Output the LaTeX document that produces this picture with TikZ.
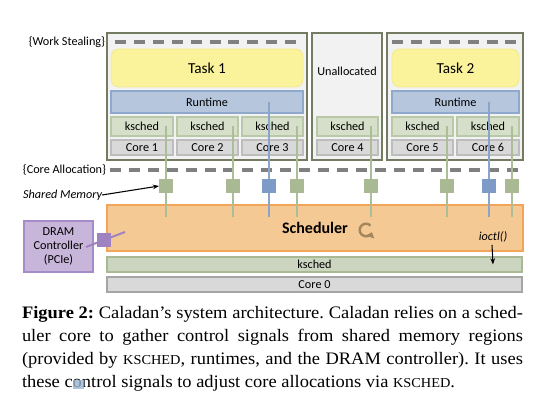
\documentclass[tikz,border=0pt]{standalone}
\usepackage{fontspec}
\usepackage{graphicx}
\setmainfont{Carlito}
\newfontfamily\capfont{Liberation Serif}
\usetikzlibrary{fit,arrows.meta}
\definecolor{outerB}{HTML}{737B62}
\definecolor{outerF}{HTML}{F2F2F2}
\definecolor{taskF}{HTML}{FAF39C}
\definecolor{taskB}{HTML}{F4EA8E}
\definecolor{rtF}{HTML}{B5C6DD}
\definecolor{rtB}{HTML}{8FA9CD}
\definecolor{ksF}{HTML}{D5DFC9}
\definecolor{ksB}{HTML}{B9C9A7}
\definecolor{coreF}{HTML}{D9D9D9}
\definecolor{coreB}{HTML}{BDBDBD}
\definecolor{dashC}{HTML}{808080}
\definecolor{sqG}{HTML}{A8B993}
\definecolor{lineG}{HTML}{ADBD98}
\definecolor{sqB}{HTML}{7E9BC7}
\definecolor{lineB}{HTML}{8AA5CB}
\definecolor{schF}{HTML}{F5C994}
\definecolor{schB}{HTML}{F2A559}
\definecolor{kbarF}{HTML}{CCD5C0}
\definecolor{kbarB}{HTML}{A9B994}
\definecolor{czF}{HTML}{D9D9D9}
\definecolor{czB}{HTML}{A5A5A5}
\definecolor{dramF}{HTML}{C8B6DA}
\definecolor{dramB}{HTML}{A58BC7}
\definecolor{dramS}{HTML}{9F83C1}
\definecolor{iconC}{HTML}{A4865C}
\definecolor{strayC}{HTML}{9AB5D3}
\newcommand\smallcapsword[1]{{\fontsize{9.4}{12}\selectfont #1}}
\newcommand\capline[1]{\makebox[328.5pt][s]{#1}}
\begin{document}
\begin{tikzpicture}[x=0.6557pt,y=-0.6557pt,
  every node/.style={inner sep=0,outer sep=0},
  outerbox/.style={draw=outerB,fill=outerF,line width=0.9pt},
  taskbox/.style={draw=taskB,fill=taskF,line width=0.6pt,rounded corners=5pt},
  rtbox/.style={draw=rtB,fill=rtF,line width=0.8pt},
  ksbox/.style={draw=ksB,fill=ksF,line width=0.8pt},
  corebox/.style={draw=coreB,fill=coreF,line width=0.8pt},
  txt/.style={font=\fontsize{8}{9.6}\selectfont},
  bigtxt/.style={font=\fontsize{10}{12}\selectfont},
  sepdash/.style={draw=dashC,line width=2pt,dash pattern=on 7.2pt off 5.2pt},
  lbl/.style={font=\fontsize{8}{9.6}\selectfont,anchor=east},
  sqgreen/.style={fill=sqG,minimum size=9.2pt},
  sqblue/.style={fill=sqB,minimum size=9.2pt},
  congreen/.style={draw=lineG,line width=1.3pt},
  conblue/.style={draw=lineB,line width=1.3pt},
  pointer/.style={draw=black,line width=0.7pt,-{Stealth[length=4pt,width=3pt]}}
]
\useasboundingbox (0,0) rectangle (545,401);

% outer boxes
\node[outerbox,fit={(107,33) (307,160)}] (b1) {};
\node[outerbox,fit={(312,33) (382,160)}] (bu) {};
\node[outerbox,fit={(387,33) (523,160)}] (b2) {};

% work stealing dashes
\draw[sepdash] (115,42) -- (298,42);
\draw[sepdash] (392,42) -- (520,42);
\node[lbl] (ws) at (105,42) {\{Work Stealing\}};

% tasks and runtimes
\node[taskbox,fit={(111,49) (303,87)}] (t1) {};
\node[taskbox,fit={(392,49) (519,87)}] (t2) {};
\node[rtbox,fit={(111,91) (303,113)}] (r1) {};
\node[rtbox,fit={(392,91) (519,113)}] (r2) {};
\node[bigtxt] (t1l) at (t1.center) {Task 1};
\node[bigtxt] (t2l) at (t2.center) {Task 2};
\node[txt] (r1l) at (r1.center) {Runtime};
\node[txt] (r2l) at (r2.center) {Runtime};
\node[txt] (ua) at (347,71) {Unallocated};

% ksched and cores
\node[ksbox,fit={(111,117) (173,136)}] (k1) {};
\node[ksbox,fit={(177,117) (238,136)}] (k2) {};
\node[ksbox,fit={(242,117) (303,136)}] (k3) {};
\node[ksbox,fit={(317,117) (378,136)}] (k4) {};
\node[ksbox,fit={(392,117) (453,136)}] (k5) {};
\node[ksbox,fit={(457,117) (519,136)}] (k6) {};
\node[corebox,fit={(111,140) (173,155)}] (c1) {};
\node[corebox,fit={(177,140) (238,155)}] (c2) {};
\node[corebox,fit={(242,140) (303,155)}] (c3) {};
\node[corebox,fit={(317,140) (378,155)}] (c4) {};
\node[corebox,fit={(392,140) (453,155)}] (c5) {};
\node[corebox,fit={(457,140) (519,155)}] (c6) {};
\node[txt] (k1l) at (k1.center) {ksched};
\node[txt] (k2l) at (k2.center) {ksched};
\node[txt] (k3l) at (k3.center) {ksched};
\node[txt] (k4l) at (k4.center) {ksched};
\node[txt] (k5l) at (k5.center) {ksched};
\node[txt] (k6l) at (k6.center) {ksched};
\node[txt] (c1l) at (c1.center) {Core 1};
\node[txt] (c2l) at (c2.center) {Core 2};
\node[txt] (c3l) at (c3.center) {Core 3};
\node[txt] (c4l) at (c4.center) {Core 4};
\node[txt] (c5l) at (c5.center) {Core 5};
\node[txt] (c6l) at (c6.center) {Core 6};

% core allocation
\draw[sepdash] (110,170) -- (520,170);
\node[lbl] (ca) at (106,170) {\{Core Allocation\}};

% scheduler and bottom bars
\node[draw=schB,fill=schF,line width=0.8pt,fit={(107,205) (523,251)}] (sched) {};
\node[draw=kbarB,fill=kbarF,line width=0.8pt,fit={(107,257) (522,272)}] (kbar) {};
\node[draw=czB,fill=czF,line width=0.8pt,fit={(107,277) (522,292)}] (c0) {};
\node[font=\bfseries\fontsize{10.5}{12}\selectfont] (schedl) at (315,228) {Scheduler};
\node[txt] (kbarl) at (kbar.center) {ksched};
\node[txt] (c0l) at (c0.center) {Core 0};

% cycle icon
\coordinate (cyc) at (366,230);
\draw[iconC,line width=1.6pt,-{Triangle[length=3.4pt,width=5.6pt]}] (cyc) ++(-45:6.3) arc[start angle=-45,end angle=-340,radius=6.3];

% ioctl
\node[font=\itshape\fontsize{8}{9.6}\selectfont] (io) at (493,237) {ioctl()};
\draw[pointer] (492,245) -- (io.south |- kbar.center);

% DRAM controller
\node[draw=dramB,fill=dramF,line width=0.8pt,fit={(24,221) (93,272)}] (dram) {};
\node[txt,align=center,font=\fontsize{8}{9.4}\selectfont] (draml) at (dram.center) {DRAM\\Controller\\(PCIe)};

% shared memory squares (positions)
\node[sqgreen] (s1) at (166,186) {};
\node[sqgreen] (s2) at (233,186) {};
\node[sqblue]  (s3) at (269,186) {};
\node[sqgreen] (s4) at (297,186) {};
\node[sqgreen] (s5) at (371,186) {};
\node[sqgreen] (s6) at (447,186) {};
\node[sqblue]  (s7) at (489,186) {};
\node[sqgreen] (s8) at (512,186) {};
\node[fill=dramS,minimum size=9.2pt] (sd) at (104,240) {};

% connectors
\draw[congreen] (k1.center -| s1) -- (s1.center) -- ++(0,31);
\draw[congreen] (k2.center -| s2) -- (s2.center) -- ++(0,31);
\draw[conblue]  (r1.center -| s3) -- (s3.center) -- ++(0,31);
\draw[congreen] (k3.center -| s4) -- (s4.center) -- ++(0,31);
\draw[congreen] (k4.center -| s5) -- (s5.center) -- ++(0,31);
\draw[congreen] (k5.center -| s6) -- (s6.center) -- ++(0,31);
\draw[conblue]  (r2.center -| s7) -- (s7.center) -- ++(0,31);
\draw[congreen] (k6.center -| s8) -- (s8.center) -- ++(0,31);
\coordinate (dA) at (86,247);
\coordinate (dB) at (125,232);
\draw[draw=dramS,line width=1.3pt] (dA) -- (sd.center) -- (dB);

% redraw squares on top
\node[sqgreen] at (s1) {};
\node[sqgreen] at (s2) {};
\node[sqblue]  at (s3) {};
\node[sqgreen] at (s4) {};
\node[sqgreen] at (s5) {};
\node[sqgreen] at (s6) {};
\node[sqblue]  at (s7) {};
\node[sqgreen] at (s8) {};
\node[fill=dramS,minimum size=9.2pt] at (sd) {};

% shared memory label
\node[font=\itshape\fontsize{8}{9.6}\selectfont,anchor=east] (sm) at (102,195) {Shared Memory};
\draw[pointer] (sm.east) -- (s1.west);

% caption
\node[anchor=base west] (cap) at (22,319)
{\scalebox{1}[0.95]{\begin{minipage}[t]{328.5pt}\capfont\fontsize{12.1}{15.7}\selectfont\frenchspacing
\capline{\textbf{Figure 2:} Caladan’s system architecture. Caladan relies on a sched-}\\
\capline{uler core to gather control signals from shared memory regions}\\
\capline{(provided by \smallcapsword{KSCHED}, runtimes, and the DRAM controller). It uses}\\
these control signals to adjust core allocations via \smallcapsword{KSCHED}.\end{minipage}}};
\fill[strayC,opacity=0.8] (73,380) rectangle (84,389);
\end{tikzpicture}
\end{document}
